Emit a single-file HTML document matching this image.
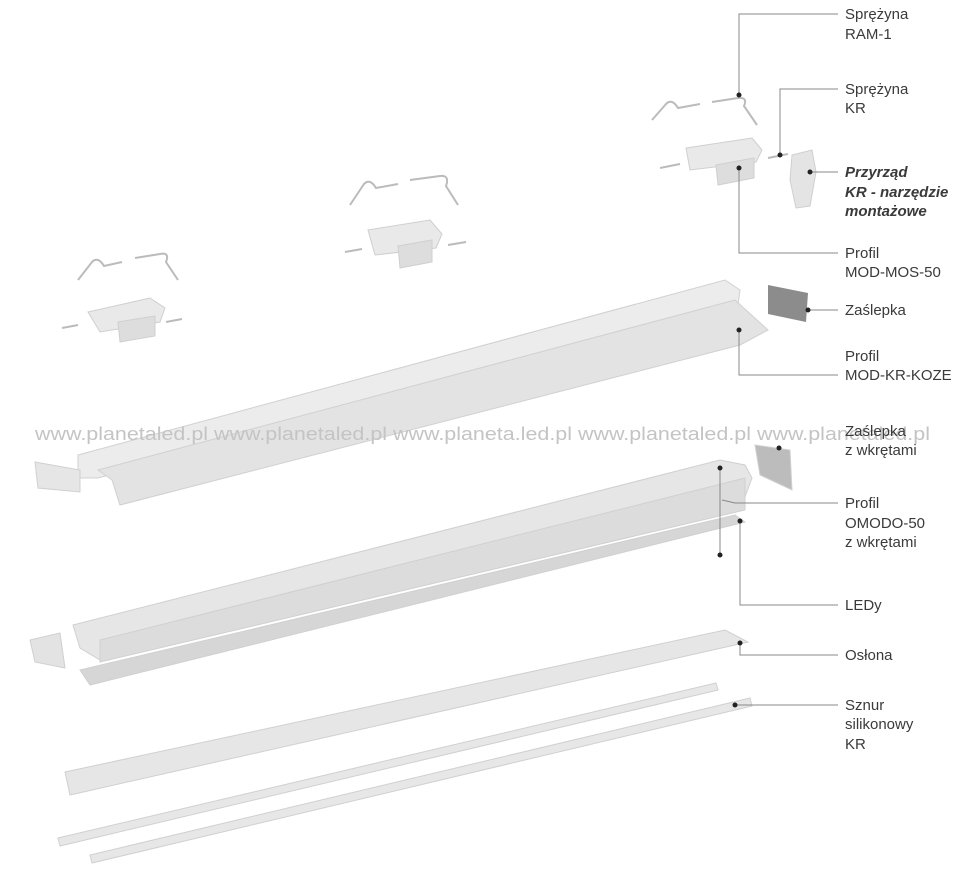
<!DOCTYPE html>
<html><head><meta charset="utf-8"><style>
body{margin:0;background:#fff;}
svg{display:block}
text{font-family:"Liberation Sans",sans-serif;font-size:15px;fill:#3a3a3a}
</style></head><body>
<svg width="964" height="870" viewBox="0 0 964 870" xmlns="http://www.w3.org/2000/svg">
<g fill="none" stroke="#bbb" stroke-width="2">
<path d="M78 280 L92 262 Q98 256 104 266 L122 262"/><path d="M135 258 L160 254 Q170 252 166 262 L178 280"/>
<path d="M350 205 L364 184 Q370 178 376 188 L398 184"/><path d="M410 180 L440 176 Q450 175 446 186 L458 205"/>
<path d="M652 120 L666 104 Q672 98 678 108 L700 104"/><path d="M712 102 L738 98 Q748 97 744 106 L757 125"/>
<path d="M62 328 L78 325"/><path d="M166 322 L182 319"/><path d="M345 252 L362 249"/><path d="M448 245 L466 242"/><path d="M660 168 L680 164"/><path d="M768 158 L788 154"/>
</g>
<g fill="#e9e9e9" stroke="#cfcfcf" stroke-width="1">
<polygon points="88,312 150,298 165,308 160,322 100,332"/><polygon points="118,322 155,316 155,336 120,342" fill="#ddd"/>
<polygon points="368,230 430,220 442,234 436,248 375,255"/><polygon points="398,246 432,240 432,262 400,268" fill="#ddd"/>
<polygon points="686,148 752,138 762,150 756,162 690,170"/><polygon points="716,165 754,158 754,178 718,185" fill="#ddd"/>
<polygon points="792,155 812,150 816,172 810,206 796,208 790,180" fill="#e4e4e4"/>
</g>
<polygon points="768,285 808,293 806,322 768,314" fill="#8c8c8c"/>
<g stroke="#d0d0d0" stroke-width="1">
<polygon points="78,455 725,280 740,290 738,305 98,478 78,478" fill="#ececec"/>
<polygon points="98,470 735,300 768,330 740,345 120,505 112,480" fill="#e3e3e3"/>
<polygon points="35,462 80,470 80,492 38,488" fill="#e6e6e6"/>
<polygon points="73,625 720,460 745,465 752,478 740,510 100,660 80,648" fill="#e6e6e6"/>
<polygon points="100,640 745,478 745,510 100,662" fill="#dcdcdc"/>
<polygon points="755,445 790,450 792,490 760,475" fill="#bcbcbc"/>
<polygon points="30,640 60,633 65,668 35,662" fill="#e3e3e3"/>
<polygon points="80,670 735,515 745,522 90,685" fill="#d6d6d6"/>
<polygon points="65,772 725,630 748,642 70,795" fill="#e6e6e6"/>
<polygon points="58,838 716,683 718,690 60,846" fill="#e7e7e7"/>
<polygon points="90,855 750,698 752,706 92,863" fill="#e7e7e7"/>
</g>
<text x="35" y="440" textLength="895" lengthAdjust="spacingAndGlyphs" style="font-size:18px;fill:#c4c4c4">www.planetaled.pl www.planetaled.pl www.planeta.led.pl www.planetaled.pl www.planetaled.pl</text>
<g fill="none" stroke="#888" stroke-width="1">
<path d="M838 14 H739 V95"/><path d="M838 89 H780 V155"/><path d="M838 172 H810"/>
<path d="M838 253 H739 V168"/><path d="M838 310 H808"/><path d="M838 375 H739 V330"/>
<path d="M838 503 H735 L722 500 M720 468 V555"/><path d="M838 605 H740 V521"/><path d="M838 655 H740 V643"/><path d="M838 705 H735"/>
</g>
<g fill="#222">
<circle cx="739" cy="95" r="2.5"/><circle cx="780" cy="155" r="2.5"/><circle cx="810" cy="172" r="2.5"/><circle cx="739" cy="168" r="2.5"/><circle cx="808" cy="310" r="2.5"/><circle cx="739" cy="330" r="2.5"/><circle cx="779" cy="448" r="2.5"/><circle cx="720" cy="468" r="2.5"/><circle cx="720" cy="555" r="2.5"/><circle cx="740" cy="521" r="2.5"/><circle cx="740" cy="643" r="2.5"/><circle cx="735" cy="705" r="2.5"/>
</g>
<text x="845" y="19">Sprężyna</text><text x="845" y="39">RAM-1</text>
<text x="845" y="94">Sprężyna</text><text x="845" y="113">KR</text>
<text x="845" y="177" style="font-weight:bold;font-style:italic">Przyrząd</text>
<text x="845" y="197" style="font-weight:bold;font-style:italic">KR - narzędzie</text>
<text x="845" y="216" style="font-weight:bold;font-style:italic">montażowe</text>
<text x="845" y="258">Profil</text><text x="845" y="277">MOD-MOS-50</text>
<text x="845" y="315">Zaślepka</text>
<text x="845" y="361">Profil</text><text x="845" y="380">MOD-KR-KOZE</text>
<text x="845" y="436">Zaślepka</text><text x="845" y="455">z wkrętami</text>
<text x="845" y="508">Profil</text><text x="845" y="528">OMODO-50</text><text x="845" y="547">z wkrętami</text>
<text x="845" y="610">LEDy</text>
<text x="845" y="660">Osłona</text>
<text x="845" y="710">Sznur</text><text x="845" y="729">silikonowy</text><text x="845" y="749">KR</text>
</svg>
</body></html>
